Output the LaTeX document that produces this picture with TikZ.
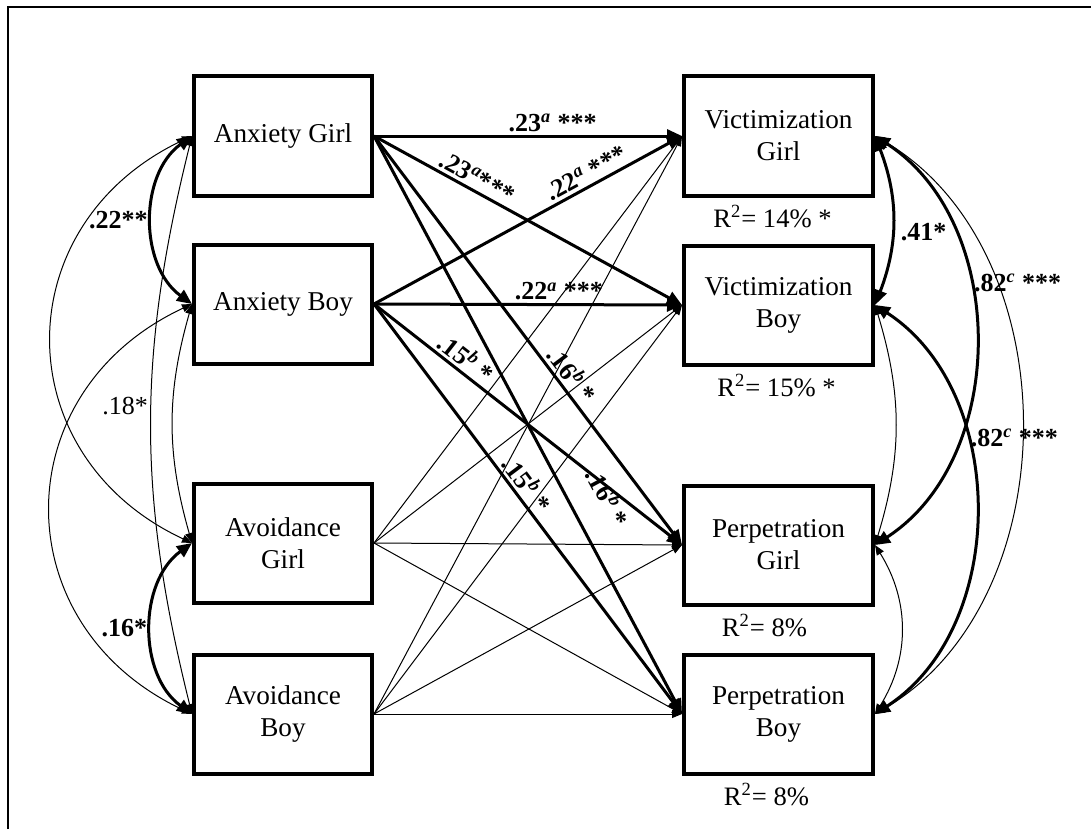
\documentclass[tikz,border=0pt]{standalone}
\usepackage{fontspec}
\setmainfont{Liberation Serif}
\usetikzlibrary{positioning, arrows.meta}

\tikzset{
  varbox/.style={draw, line width=2pt, minimum width=89pt, minimum height=59.5pt, inner sep=2pt, align=center, font=\fontsize{13.6}{16}\selectfont},
  outbox/.style={varbox, minimum width=94.5pt},
  strong/.style={line width=1.5pt, -{Triangle[length=7.5pt,width=6.5pt]}},
  weak/.style={line width=0.5pt, -{Triangle[length=5pt,width=4pt]}},
  strongcov/.style={line width=1.5pt, {Triangle[length=7.5pt,width=6.5pt]}-{Triangle[length=7.5pt,width=6.5pt]}},
  weakcov/.style={line width=0.5pt, {Triangle[length=5pt,width=4pt]}-{Triangle[length=5pt,width=4pt]}},
  coef/.style={font=\fontsize{13}{14}\selectfont\bfseries, inner sep=1.5pt},
  plaincoef/.style={font=\fontsize{13}{14}\selectfont, inner sep=1.5pt},
  rsq/.style={font=\fontsize{13.3}{15}\selectfont, inner sep=1pt}
}

\begin{document}
\begin{tikzpicture}
\useasboundingbox (0,0) rectangle (545.5pt,-414.5pt);
\draw[line width=1pt] (4pt,-414.5pt) -- (4pt,-3.5pt) -- (545.5pt,-3.5pt);

\node[varbox] (AG) at (141.5pt,-68pt) {Anxiety Girl};
\node[varbox, below=22.5pt of AG] (AB) {Anxiety Boy};
\node[varbox, below=58pt of AB] (AvG) {Avoidance\\Girl};
\node[varbox, below=24pt of AvG] (AvB) {Avoidance\\Boy};

\node[outbox, right=154pt of AG] (VG) {Victimization\\Girl};
\node[outbox, below=23pt of VG] (VB) {Victimization\\Boy};
\node[outbox, below=58.5pt of VB] (PG) {Perpetration\\Girl};
\node[outbox, below=23pt of PG] (PB) {Perpetration\\Boy};

\node[rsq, below=2.5pt of VG, xshift=-3pt] (rVG) {R\textsuperscript{2}= 14\% *};
\node[rsq, below=2.5pt of VB, xshift=-1pt] (rVB) {R\textsuperscript{2}= 15\% *};
\node[rsq, below=2.5pt of PG, xshift=-7pt] (rPG) {R\textsuperscript{2}= 8\%};
\node[rsq, below=2.5pt of PB, xshift=-6pt] (rPB) {R\textsuperscript{2}= 8\%};

\draw[weak] (AvG.east) -- (VG.west);
\draw[weak] (AvG.east) -- (VB.west);
\draw[weak] (AvG.east) -- (PG.west);
\draw[weak] (AvG.east) -- (PB.west);
\draw[weak] (AvB.east) -- (VG.west);
\draw[weak] (AvB.east) -- (VB.west);
\draw[weak] (AvB.east) -- (PG.west);
\draw[weak] (AvB.east) -- (PB.west);

\draw[strong] (AG.east) -- node[coef, above, pos=0.58] {.23\textsuperscript{\textit{a}} ***} (VG.west);
\draw[strong] (AG.east) -- node[coef, above, sloped, pos=0.315] {.23\textsuperscript{\textit{a}}***} (VB.west);
\draw[strong] (AG.east) -- node[coef, above, sloped, pos=0.605] {.16\textsuperscript{\textit{b}} *} (PG.west);
\draw[strong] (AG.east) -- node[coef, above=11pt, sloped, pos=0.655] {.16\textsuperscript{\textit{b}} *} (PB.west);
\draw[strong] (AB.east) -- node[coef, above, sloped, pos=0.71] {.22\textsuperscript{\textit{a}} ***} (VG.west);
\draw[strong] (AB.east) -- node[coef, above, pos=0.6] {.22\textsuperscript{\textit{a}} ***} (VB.west);
\draw[strong] (AB.east) -- node[coef, above, sloped, pos=0.27] {.15\textsuperscript{\textit{b}} *} (PG.west);
\draw[strong] (AB.east) -- node[coef, above, sloped, pos=0.46] {.15\textsuperscript{\textit{b}} *} (PB.west);

\draw[strongcov] (AG.west) to[out=216, in=144] node[coef, left] {.22**} (AB.west);
\draw[weakcov] (AG.west) to[out=205, in=155, looseness=1.3] (AvG.west);
\draw[weakcov] (AG.west) to[out=256, in=104] node[plaincoef, left, pos=0.465] {.18*} (AvB.west);
\draw[weakcov] (AB.west) to[out=254, in=106] (AvG.west);
\draw[weakcov] (AB.west) to[out=205, in=155, looseness=1.3] (AvB.west);
\draw[strongcov] (AvG.west) to[out=216, in=144] node[coef, left] {.16*} (AvB.west);

\draw[strongcov] (VG.east) to[out=291, in=69] node[coef, right, pos=0.57, xshift=2pt] {.41*} (VB.east);
\draw[strongcov] (VG.east) to[out=327, in=33] node[coef, right, pos=0.38] {.82\textsuperscript{\textit{c}} ***} (PG.east);
\draw[strongcov] (VB.east) to[out=327, in=33] node[coef, right, pos=0.35] {.82\textsuperscript{\textit{c}} ***} (PB.east);
\draw[weakcov] (VG.east) to[out=330, in=30] (PB.east);
\draw[weakcov] (VB.east) to[out=287, in=73] (PG.east);
\draw[weakcov] (PG.east) to[out=302, in=58] (PB.east);
\end{tikzpicture}
\end{document}
